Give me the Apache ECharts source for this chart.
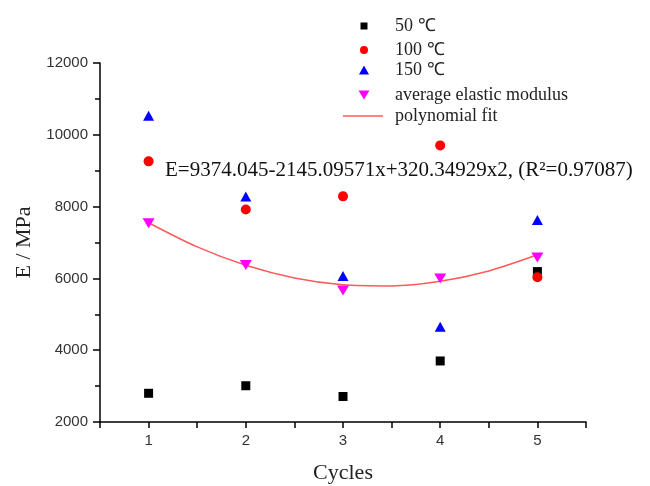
<!DOCTYPE html>
<html>
<head>
<meta charset="utf-8">
<script src="https://cdn.jsdelivr.net/npm/echarts@6/dist/echarts.min.js"></script>
<style>
  html, body { margin: 0; padding: 0; background: #fff; }
  #chart { width: 650px; height: 486px; }
</style>
</head>
<body>
<div id="chart"></div>
<script>
var cycles = [1, 2, 3, 4, 5];
var e50 = [2800, 3010, 2710, 3700, 6190];
var e100 = [9260, 7920, 8285, 9705, 6035];
var e150 = [10530, 8280, 6070, 4655, 7630];
var eAvg = [7535, 6375, 5665, 6000, 6580];
// fitted curve at half-cycle steps
var fitX = [1, 1.5, 2, 2.5, 3, 3.5, 4, 4.5, 5];
var fitY = [7550, 6877, 6365, 6013, 5822, 5790, 5919, 6208, 6657];
var seriesNames = ['50 \u2103', '100 \u2103', '150 \u2103', 'average elastic modulus', 'polynomial fit'];
var equation = 'E=9374.045-2145.09571x+320.34929x2, (R\u00b2=0.97087)';

function pairs(xs, ys) {
  return xs.map(function (x, i) { return [x, ys[i]]; });
}

var chart = echarts.init(document.getElementById('chart'));
var serif = '"Liberation Serif", "Times New Roman", serif';
var sans = '"Liberation Sans", Arial, sans-serif';
var downTri = 'path://M0,0 L10,0 L5,8 Z';

// one small legend per row so every marker keeps its own size
function legendRow(name, icon, w, h, cx, cy) {
  var left = cx - w / 2;
  var leg = {
    orient: 'vertical',
    left: left,
    top: cy - 9,
    padding: 0,
    itemWidth: w,
    itemHeight: h,
    data: [name],
    textStyle: {
      fontFamily: serif, fontSize: 18, color: '#222', lineHeight: 18,
      padding: [0, 0, 0, 395 - (left + w + 5)]
    }
  };
  if (icon) leg.icon = icon;
  return leg;
}

var option = {
  backgroundColor: '#fff',
  animation: false,
  grid: { left: 100, right: 64, top: 63, bottom: 64, outerBoundsMode: 'none' },
  legend: [
    legendRow(seriesNames[0], null, 7, 7, 364, 26),
    legendRow(seriesNames[1], null, 8, 8, 364, 50),
    legendRow(seriesNames[2], null, 10, 9, 364, 70),
    legendRow(seriesNames[3], null, 11, 9, 364, 95),
    legendRow(seriesNames[4], 'rect', 40, 1.5, 363, 116)
  ],
  xAxis: {
    type: 'value',
    name: 'Cycles',
    nameLocation: 'middle',
    nameGap: 40,
    nameTextStyle: { fontFamily: serif, fontSize: 22, color: '#222' },
    min: 0.5,
    max: 5.5,
    interval: 0.5,
    axisLine: { lineStyle: { color: '#000', width: 1.5 } },
    axisTick: { inside: false, length: 6, lineStyle: { color: '#000', width: 1.5 } },
    axisLabel: {
      fontFamily: sans, fontSize: 15, color: '#333', margin: 11,
      formatter: function (v) { return v % 1 === 0 ? String(v) : ''; }
    },
    splitLine: { show: false }
  },
  yAxis: {
    type: 'value',
    name: 'E / MPa',
    nameLocation: 'middle',
    nameGap: 53,
    nameTextStyle: { fontFamily: serif, fontSize: 22, color: '#222' },
    min: 2000,
    max: 12000,
    interval: 2000,
    axisLine: { show: true, lineStyle: { color: '#000', width: 1.5 } },
    axisTick: { show: true, length: 7, lineStyle: { color: '#000', width: 1.5 } },
    minorTick: { show: true, splitNumber: 2, length: 5, lineStyle: { color: '#000', width: 1.5 } },
    axisLabel: {
      fontFamily: sans, fontSize: 15, color: '#333', margin: 12,
      formatter: function (v) { return String(v); }
    },
    splitLine: { show: false }
  },
  graphic: [{
    type: 'text',
    left: 165,
    top: 160,
    style: { text: equation, font: '21px ' + serif, fill: '#111' }
  }],
  series: [
    {
      name: seriesNames[0], type: 'scatter', symbol: 'rect', symbolSize: 9,
      itemStyle: { color: '#000', opacity: 1 }, data: pairs(cycles, e50), z: 3
    },
    {
      name: seriesNames[1], type: 'scatter', symbol: 'circle', symbolSize: 10,
      itemStyle: { color: '#ff0000', opacity: 1 }, data: pairs(cycles, e100), z: 4
    },
    {
      name: seriesNames[2], type: 'scatter', symbol: 'triangle', symbolSize: [11, 10],
      itemStyle: { color: '#0000ff', opacity: 1 }, data: pairs(cycles, e150), z: 3
    },
    {
      name: seriesNames[3], type: 'scatter', symbol: downTri, symbolSize: [12, 10],
      itemStyle: { color: '#ff00ff', opacity: 1 }, data: pairs(cycles, eAvg), z: 3
    },
    {
      name: seriesNames[4], type: 'line', symbol: 'none', smooth: 0.3,
      lineStyle: { color: '#ff5a5a', width: 1.5 }, itemStyle: { color: '#ff5a5a' },
      data: pairs(fitX, fitY), z: 2
    }
  ]
};

chart.setOption(option);
</script>
</body>
</html>
